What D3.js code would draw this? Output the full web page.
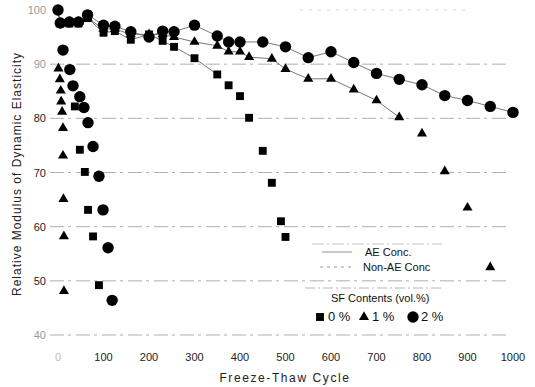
<!DOCTYPE html>
<html>
<head>
<meta charset="utf-8">
<script src="https://cdn.jsdelivr.net/npm/d3@7"></script>
<style>
  body { margin: 0; background: #fff; }
  svg { display: block; font-family: "Liberation Sans", Arial, sans-serif; }
</style>
</head>
<body>
<svg id="chart" width="535" height="387"></svg>
<script>
// tick values
const yTicks = [100, 90, 80, 70, 60, 50, 40];
const xTicks = [0, 100, 200, 300, 400, 500, 600, 700, 800, 900, 1000];

// AE concrete, SF 0 / 1 / 2 vol.%
const aeCycles0 = [0, 5, 25, 45, 65, 100, 125, 160, 200, 230, 255, 300, 350, 375, 400, 420, 450, 470, 490, 500];
const aeValues0 = [100, 97.5, 97.5, 97.5, 98.5, 95.8, 96.1, 94.5, 95.5, 94.3, 93.2, 91.1, 88.1, 86.1, 84.1, 80.1, 74, 68.1, 61, 58.1];
const aeCycles1 = [0, 5, 25, 45, 65, 100, 125, 160, 200, 230, 255, 300, 350, 375, 400, 420, 470, 500, 550, 600, 650, 700, 750, 800, 850, 900, 950];
const aeValues1 = [100, 97.5, 97.8, 97.8, 98.5, 96.5, 96.5, 95.5, 95.5, 95.5, 95, 94.1, 93.4, 92.3, 92.3, 91.3, 91, 89.1, 87.3, 87.3, 85.3, 83.3, 80.2, 77.2, 70.2, 63.5, 52.5];
const aeCycles2 = [0, 5, 25, 45, 65, 100, 125, 160, 200, 230, 255, 300, 350, 375, 400, 450, 500, 550, 600, 650, 700, 750, 800, 850, 900, 950, 1000];
const aeValues2 = [100, 97.6, 97.8, 97.8, 99.1, 97.2, 97, 96, 95, 96.1, 96, 97.2, 95.2, 94.1, 94.1, 94.1, 93.2, 91.2, 92.3, 90.3, 88.3, 87.2, 86.2, 84.2, 83.3, 82.2, 81.1];

// Non-AE concrete, SF 0 / 1 / 2 vol.%
const nonCycles0 = [33, 37, 48, 59, 66, 77, 90];
const nonValues0 = [86, 82.2, 74.2, 70.1, 63.1, 58.2, 49.2];
const nonCycles1 = [1, 4, 6, 7, 9, 11, 11, 12, 13, 13];
const nonValues1 = [89.2, 87.2, 85.1, 83.1, 81.2, 78.2, 73.1, 65.1, 58.2, 48.1];
const nonCycles2 = [11, 26, 33, 48, 57, 66, 77, 90, 99, 110, 119];
const nonValues2 = [92.6, 89, 86, 84, 82, 79.2, 74.8, 69.3, 63.1, 56.1, 46.4];

const svg = d3.select("#chart");
const x = d3.scaleLinear().domain([0, 1000]).range([58, 513]);
const y = d3.scaleLinear().domain([40, 100]).range([335, 10]);

const zip = (c, v) => c.map((d, i) => ({ c: d, v: v[i] }));
const series = [
  { shape: "square", ae: true, pts: zip(aeCycles0, aeValues0), lineTo: 350 },
  { shape: "triangle", ae: true, pts: zip(aeCycles1, aeValues1), lineTo: 750 },
  { shape: "circle", ae: true, pts: zip(aeCycles2, aeValues2), lineTo: 1000 },
  { shape: "square", ae: false, pts: zip(nonCycles0, nonValues0) },
  { shape: "triangle", ae: false, pts: zip(nonCycles1, nonValues1) },
  { shape: "circle", ae: false, pts: zip(nonCycles2, nonValues2) }
];

// gridlines (scanned look: broken dashes)
svg.append("g").selectAll("line")
  .data(yTicks)
  .join("line")
  .attr("x1", d => d === 100 ? 300 : 50).attr("x2", d => d === 100 ? 470 : 510)
  .attr("y1", d => y(d)).attr("y2", d => y(d))
  .attr("stroke", d => d === 100 ? "#ccc" : "#9a9a9a")
  .attr("stroke-width", 0.8)
  .attr("stroke-dasharray", d => d === 100 ? "3,6" : "14,4,3,5");

// y tick labels
svg.append("g").selectAll("text")
  .data(yTicks)
  .join("text")
  .attr("x", 46).attr("y", d => y(d) + 4)
  .attr("text-anchor", "end")
  .attr("font-size", 11)
  .attr("fill", d => (d === 100 || d === 90 || d === 40) ? "#999" : "#222")
  .text(d => d);

// x tick labels
svg.append("g").selectAll("text")
  .data(xTicks)
  .join("text")
  .attr("x", d => x(d)).attr("y", 361)
  .attr("text-anchor", "middle")
  .attr("font-size", 11)
  .attr("fill", d => d === 0 ? "#bbb" : "#222")
  .text(d => d);

// axis titles
svg.append("text")
  .attr("transform", "translate(21,174) rotate(-90)")
  .attr("text-anchor", "middle")
  .attr("font-size", 12)
  .attr("letter-spacing", 1)
  .attr("fill", "#222")
  .text("Relative Modulus of Dynamic Elasticity");

svg.append("text")
  .attr("x", 285).attr("y", 382)
  .attr("text-anchor", "middle")
  .attr("font-size", 12)
  .attr("letter-spacing", 1.6)
  .attr("fill", "#222")
  .text("Freeze-Thaw Cycle");

// connecting lines for AE concrete
const line = d3.line().x(d => x(d.c)).y(d => y(d.v));
svg.append("g").selectAll("path")
  .data(series.filter(s => s.ae))
  .join("path")
  .attr("d", s => line(s.pts.filter(p => p.c <= s.lineTo)))
  .attr("fill", "none")
  .attr("stroke", "#555")
  .attr("stroke-width", 0.8);

// markers
const symbolOf = { square: d3.symbolSquare, triangle: d3.symbolTriangle };
const sizeOf = { square: 62, triangle: 44 };
function drawMarker(g, shape, cx, cy) {
  if (shape === "circle") {
    g.append("circle").attr("cx", cx).attr("cy", cy).attr("r", 5.7).attr("fill", "#000");
  } else {
    g.append("path")
      .attr("d", d3.symbol().type(symbolOf[shape]).size(sizeOf[shape])())
      .attr("transform", `translate(${cx},${cy})`)
      .attr("fill", "#000");
  }
}
const markG = svg.append("g");
series.forEach(s => s.pts.forEach(p => drawMarker(markG, s.shape, x(p.c), y(p.v))));

// legend
const leg = svg.append("g").attr("fill", "#111").attr("font-size", 11);
leg.append("line").attr("x1", 312).attr("x2", 442).attr("y1", 244).attr("y2", 244)
  .attr("stroke", "#aaa").attr("stroke-width", 0.7).attr("stroke-dasharray", "12,3,2,3");
leg.append("line").attr("x1", 322).attr("x2", 352).attr("y1", 252).attr("y2", 252)
  .attr("stroke", "#777").attr("stroke-width", 0.8);
leg.append("text").attr("x", 365).attr("y", 256).text("AE Conc.");
leg.append("line").attr("x1", 320).attr("x2", 352).attr("y1", 267).attr("y2", 267)
  .attr("stroke", "#777").attr("stroke-width", 0.8).attr("stroke-dasharray", "3,4");
leg.append("text").attr("x", 363).attr("y", 271).text("Non-AE Conc");
leg.append("line").attr("x1", 305).attr("x2", 442).attr("y1", 288).attr("y2", 288)
  .attr("stroke", "#999").attr("stroke-width", 0.7).attr("stroke-dasharray", "10,3,2,3");
leg.append("text").attr("x", 331).attr("y", 302).text("SF Contents (vol.%)");

const legItems = [
  { shape: "square", label: "0 %", mx: 320 },
  { shape: "triangle", label: "1 %", mx: 364 },
  { shape: "circle", label: "2 %", mx: 413 }
];
legItems.forEach(it => {
  drawMarker(leg, it.shape, it.mx, 317);
  leg.append("text").attr("x", it.mx + 8).attr("y", 321).attr("font-size", 13).text(it.label);
});
</script>
</body>
</html>
